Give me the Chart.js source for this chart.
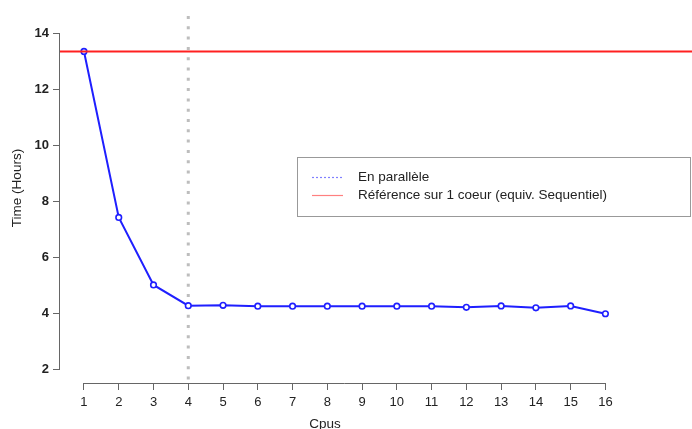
<!DOCTYPE html>
<html>
<head>
<meta charset="utf-8">
<script src="https://cdn.jsdelivr.net/npm/chart.js@4.4.1/dist/chart.umd.min.js"></script>
<style>
  body { margin: 0; background: #fff; }
  #wrap { width: 692px; height: 429px; position: relative; }
</style>
</head>
<body>
<div id="wrap"><canvas id="timeChart"></canvas></div>
<script>
const cpus = [1, 2, 3, 4, 5, 6, 7, 8, 9, 10, 11, 12, 13, 14, 15, 16];
const hours = [13.37, 7.43, 5.01, 4.27, 4.28, 4.25, 4.25, 4.25, 4.25, 4.25, 4.25, 4.21, 4.26, 4.19, 4.26, 3.98];
const sequentialHours = 13.37;
const markerCpus = 4;
const yTicks = [2, 4, 6, 8, 10, 12, 14];
const legendLabels = ['En parallèle', 'Référence sur 1 coeur (equiv. Sequentiel)'];
const xTitle = 'Cpus';
const yTitle = 'Time (Hours)';

const FONT = '"Liberation Sans", Arial, sans-serif';

// R-like axes, guide lines, legend and titles
const rStyle = {
    id: 'rStyle',
    beforeDatasetsDraw(chart) {
        const {ctx, chartArea, scales: {x}} = chart;
        const px = x.getPixelForValue(markerCpus);
        ctx.save();
        ctx.strokeStyle = '#bdbdbd';
        ctx.lineWidth = 3;
        ctx.setLineDash([3, 7.3]);
        ctx.beginPath();
        ctx.moveTo(px, chartArea.top);
        ctx.lineTo(px, chartArea.bottom);
        ctx.stroke();
        ctx.restore();
    },
    afterDatasetsDraw(chart) {
        const {ctx, chartArea, scales: {y}} = chart;
        const py = y.getPixelForValue(sequentialHours);
        ctx.save();
        ctx.strokeStyle = '#ff2020';
        ctx.lineWidth = 2;
        ctx.beginPath();
        ctx.moveTo(chartArea.left, py);
        ctx.lineTo(chart.width, py);
        ctx.stroke();
        ctx.restore();
    },
    afterDraw(chart) {
        const {ctx, chartArea, scales: {x, y}} = chart;
        ctx.save();
        // axis lines
        ctx.strokeStyle = '#666';
        ctx.lineWidth = 1;
        ctx.beginPath();
        ctx.moveTo(chartArea.left - 0.5, y.getPixelForValue(yTicks[0]));
        ctx.lineTo(chartArea.left - 0.5, y.getPixelForValue(yTicks[yTicks.length - 1]));
        ctx.moveTo(x.getPixelForValue(cpus[0]), chartArea.bottom + 0.5);
        ctx.lineTo(x.getPixelForValue(cpus[cpus.length - 1]), chartArea.bottom + 0.5);
        ctx.stroke();

        // legend box
        ctx.strokeStyle = '#999';
        ctx.strokeRect(297.5, 157.5, 393, 59);
        ctx.lineWidth = 1.2;
        ctx.strokeStyle = '#8080ff';
        ctx.setLineDash([2, 2]);
        ctx.beginPath();
        ctx.moveTo(312, 177.5);
        ctx.lineTo(343, 177.5);
        ctx.stroke();
        ctx.setLineDash([]);
        ctx.strokeStyle = '#ff8080';
        ctx.beginPath();
        ctx.moveTo(312, 195.5);
        ctx.lineTo(343, 195.5);
        ctx.stroke();
        ctx.fillStyle = '#222';
        ctx.font = '13.5px ' + FONT;
        ctx.textBaseline = 'middle';
        ctx.textAlign = 'left';
        ctx.fillText(legendLabels[0], 358, 177);
        ctx.fillText(legendLabels[1], 358, 195);

        // axis titles
        ctx.font = '13.5px ' + FONT;
        ctx.textAlign = 'center';
        ctx.fillText(xTitle, 325, 424);
        ctx.translate(17, 188);
        ctx.rotate(-Math.PI / 2);
        ctx.fillText(yTitle, 0, 0);
        ctx.restore();
    }
};

const ctx = document.getElementById('timeChart').getContext('2d');
const timeChart = new Chart(ctx, {
    type: 'line',
    data: {
        datasets: [{
            label: legendLabels[0],
            data: cpus.map((c, i) => ({x: c, y: hours[i]})),
            borderColor: '#1f1fff',
            borderWidth: 2,
            pointRadius: 2.8,
            pointBorderWidth: 1.6,
            pointBackgroundColor: '#fff',
            pointBorderColor: '#1f1fff',
            tension: 0,
            clip: false
        }]
    },
    options: {
        responsive: true,
        maintainAspectRatio: false,
        animation: false,
        layout: { padding: { top: 16, left: 0, right: 0, bottom: 0 } },
        plugins: { legend: { display: false }, tooltip: { enabled: false } },
        scales: {
            x: {
                type: 'linear',
                min: 0.31,
                max: 18.33,
                afterBuildTicks: s => { s.ticks = cpus.map(v => ({value: v})); },
                afterFit: s => { s.height = 46; s.paddingLeft = 0; s.paddingRight = 0; },
                ticks: { font: { family: FONT, size: 13 }, color: '#222', padding: 5, maxRotation: 0, autoSkip: false },
                grid: { display: true, drawOnChartArea: false, drawTicks: true, tickLength: 7, color: '#666' },
                border: { display: false }
            },
            y: {
                type: 'linear',
                min: 1.5,
                max: 14.64,
                afterBuildTicks: s => { s.ticks = yTicks.map(v => ({value: v})); },
                afterFit: s => { s.width = 60; s.paddingTop = 0; s.paddingBottom = 0; },
                ticks: { font: { family: FONT, size: 13, weight: 'bold' }, color: '#222', padding: 4 },
                grid: { display: true, drawOnChartArea: false, drawTicks: true, tickLength: 7, color: '#666' },
                border: { display: false }
            }
        }
    },
    plugins: [rStyle]
});
</script>
</body>
</html>
